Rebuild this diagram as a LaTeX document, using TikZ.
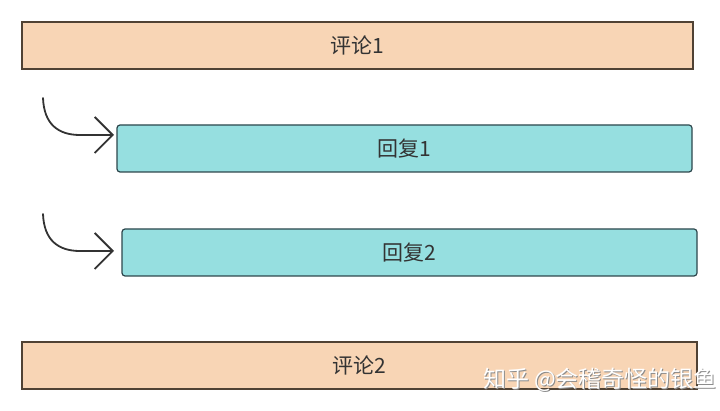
\documentclass[tikz,border=0pt]{standalone}
\usepackage{fontspec}
\usepackage{tikz}
\usetikzlibrary{arrows.meta}
\setmainfont{Noto Sans CJK SC}
\definecolor{peach}{RGB}{248,213,181}
\definecolor{cyan3}{RGB}{150,223,224}
\definecolor{brownline}{RGB}{80,66,52}
\definecolor{tealline}{RGB}{45,70,76}
\definecolor{ink}{RGB}{51,51,51}

\tikzset{
  comment/.style={draw=brownline, fill=peach, line width=1.5pt, minimum height=47pt,
    inner sep=0pt, font=\fontsize{21}{21}\selectfont, text=ink},
  reply/.style={draw=tealline, fill=cyan3, line width=1.2pt, rounded corners=3pt,
    minimum height=47pt, minimum width=575pt, inner sep=0pt,
    font=\fontsize{21}{21}\selectfont, text=ink},
  hookarrow/.style={draw=ink, line width=1.8pt, line cap=round,
    -{Straight Barb[length=18pt, width=36pt, line width=1.8pt]}}
}

\begin{document}
\begin{tikzpicture}[x=1pt, y=-1pt]
\useasboundingbox (0,0) rectangle (720,411);
% comments
\node[comment, minimum width=671pt] (c1) at (357.5,45.5) {评论1};
\node[comment, minimum width=675pt] (c2) at (359.5,365.5) {评论2};
% replies
\node[reply] (r1) at (404.5,148.5) {回复1};
\node[reply] (r2) at (409.5,252.5) {回复2};
% arrows
\coordinate (s1) at (43,98);
\coordinate (e1) at (114,135);
\coordinate (s2) at (43,214);
\coordinate (e2) at (114,251);
\draw[hookarrow] (s1) .. controls (44,124) and (58,135) .. (80,135) -- (e1);
\draw[hookarrow] (s2) .. controls (44,240) and (58,251) .. (80,251) -- (e2);
% watermark
\node[text=black!45, font=\fontsize{23}{23}\selectfont] at (601,381) {知乎 @会稽奇怪的银鱼};
\node[text=white, font=\fontsize{23}{23}\selectfont] (wm) at (600,380) {知乎 @会稽奇怪的银鱼};
\end{tikzpicture}
\end{document}
